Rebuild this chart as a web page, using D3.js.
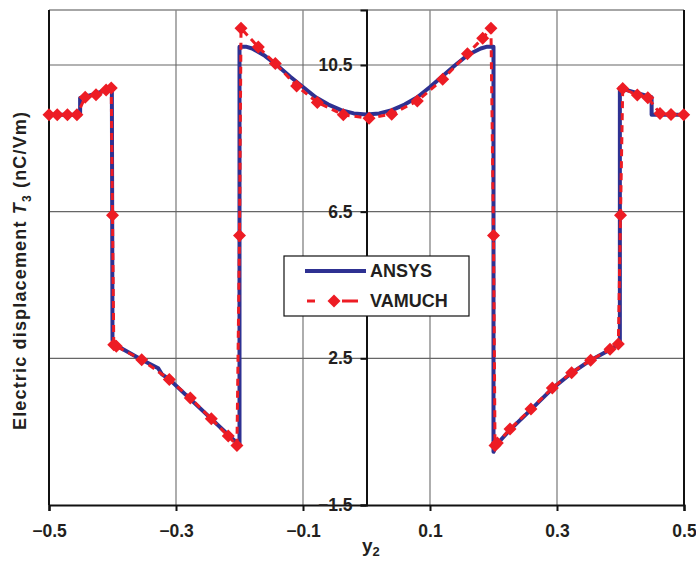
<html>
<head>
<meta charset="UTF-8"/>
<script src="https://d3js.org/d3.v7.min.js"></script>
<title>electric displacement</title>
<style>
body { margin:0; background:#fff; }
text { font-family: Arial, "Liberation Sans", sans-serif; font-weight: bold; fill: #231f20; }
</style>
</head>
<body>
<svg id='big' width=696 height=562></svg>
<script>
'use strict';

// ANSYS (solid blue line)
var ansysX = [-0.5, -0.451, -0.451, -0.43, -0.401, -0.4, -0.396, -0.354, -0.328, -0.3225, -0.31,
  -0.204, -0.2, -0.2, -0.19, -0.18, -0.16, -0.14, -0.12, -0.10, -0.08, -0.06, -0.04, -0.02, 0,
  0.02, 0.04, 0.06, 0.08, 0.10, 0.12, 0.14, 0.16, 0.18, 0.19, 0.2, 0.2, 0.205, 0.226, 0.259,
  0.293, 0.323, 0.353, 0.384, 0.399, 0.399, 0.449, 0.449, 0.5];
var ansysY = [9.14, 9.14, 9.6, 9.7, 9.87, 3.0, 2.87, 2.46, 2.23, 2.07, 1.92,
  0.19, 0.12, 11.0, 11.0, 10.95, 10.75, 10.48, 10.18, 9.90, 9.62, 9.42, 9.27, 9.18, 9.15,
  9.18, 9.27, 9.42, 9.62, 9.90, 10.2, 10.5, 10.78, 10.95, 11.0, 11.0, -0.05, 0.15, 0.55, 1.1,
  1.68, 2.1, 2.45, 2.74, 2.9, 9.87, 9.62, 9.14, 9.14];

// VAMUCH (dashed red line with diamonds)
var vamuchX = [-0.5, -0.487, -0.471, -0.456, -0.443, -0.426, -0.410, -0.402, -0.4, -0.398, -0.394,
  -0.354, -0.3105, -0.2775, -0.2444, -0.2177, -0.204, -0.2, -0.1976, -0.1704, -0.1436, -0.110,
  -0.0775, -0.0365, 0.004, 0.0397, 0.08, 0.12, 0.159, 0.183, 0.196, 0.2, 0.2024, 0.206, 0.226,
  0.259, 0.2926, 0.323, 0.353, 0.3835, 0.3966, 0.4, 0.4035, 0.4265, 0.443, 0.4622, 0.4795, 0.4995];
var vamuchY = [9.14, 9.14, 9.14, 9.14, 9.62, 9.69, 9.82, 9.87, 6.4, 2.87, 2.83,
  2.46, 1.92, 1.42, 0.85, 0.38, 0.12, 5.85, 11.5, 10.99, 10.54, 9.93,
  9.48, 9.14, 9.05, 9.16, 9.52, 10.11, 10.81, 11.23, 11.5, 5.85, 0.12, 0.19, 0.57,
  1.12, 1.69, 2.11, 2.45, 2.75, 2.89, 6.4, 9.86, 9.68, 9.61, 9.18, 9.15, 9.14];

var xTicks = [-0.5, -0.3, -0.1, 0.1, 0.3, 0.5];
var yTicks = [-1.5, 2.5, 6.5, 10.5];
var seriesNames = ['ANSYS', 'VAMUCH'];

var blue = '#2e3192';
var red = '#ed1c24';

function zip(xs, ys){
	var res = [];
	for(var i=0; i<xs.length; i++){
		res.push([xs[i], ys[i]]);
	}
	return res;
}

function diamond(r){
	return 'M0,' + (-r) + 'L' + r + ',0L0,' + r + 'L' + (-r) + ',0Z';
}

function main(){
	var svg = d3.select('#big');
	var sx = d3.scaleLinear().domain([-0.5, 0.5]).range([49, 684]);
	var sy = d3.scaleLinear().domain([-1.5, 12]).range([505, 10]);

	// grid
	svg.selectAll('.vgrid')
	.data(xTicks.slice(1, -1))
	.enter()
	.append('line')
	.attr('class', 'vgrid')
	.attr('x1', function(d){return sx(d)})
	.attr('x2', function(d){return sx(d)})
	.attr('y1', sy(12))
	.attr('y2', sy(-1.5))
	.attr('stroke', '#777')
	.attr('stroke-width', 1.2);

	svg.selectAll('.hgrid')
	.data(yTicks.slice(1))
	.enter()
	.append('line')
	.attr('class', 'hgrid')
	.attr('x1', sx(-0.5))
	.attr('x2', sx(0.5))
	.attr('y1', function(d){return sy(d)})
	.attr('y2', function(d){return sy(d)})
	.attr('stroke', '#666')
	.attr('stroke-width', 1.2);

	// plot border
	svg.append('line')
	.attr('x1', sx(-0.5)).attr('x2', sx(0.5))
	.attr('y1', sy(12)).attr('y2', sy(12))
	.attr('stroke', '#888').attr('stroke-width', 1.5);
	svg.append('line')
	.attr('x1', sx(-0.5)).attr('x2', sx(-0.5))
	.attr('y1', sy(12)).attr('y2', sy(-1.5))
	.attr('stroke', '#111').attr('stroke-width', 2);
	svg.append('line')
	.attr('x1', sx(0.5)).attr('x2', sx(0.5))
	.attr('y1', sy(12)).attr('y2', sy(-1.5))
	.attr('stroke', '#111').attr('stroke-width', 2);

	// x axis
	var xAxis = d3.axisBottom(sx)
	.tickValues(xTicks)
	.tickSize(6)
	.tickPadding(14)
	.tickFormat(function(d){return d3.format('.1f')(d)});

	var gx = svg.append('g')
	.attr('transform', 'translate(0,' + sy(-1.5) + ')')
	.call(xAxis);
	gx.select('.domain').attr('stroke', '#111').attr('stroke-width', 2.2);
	gx.selectAll('.tick line').attr('stroke', '#111').attr('stroke-width', 2);
	gx.selectAll('.tick text').attr('font-size', 17.5).attr('fill', '#231f20');

	// y axis through x = 0
	var yAxis = d3.axisLeft(sy)
	.tickValues(yTicks)
	.tickSize(6)
	.tickPadding(8)
	.tickFormat(function(d){return d3.format('.1f')(d)});

	var gy = svg.append('g')
	.attr('transform', 'translate(' + sx(0) + ',0)')
	.call(yAxis);
	gy.select('.domain').attr('stroke', '#111').attr('stroke-width', 2);
	gy.selectAll('.tick line').attr('stroke', '#111').attr('stroke-width', 2);
	gy.selectAll('.tick text').attr('font-size', 17.5).attr('fill', '#231f20');

	// series
	var line = d3.line()
	.x(function(d){return sx(d[0])})
	.y(function(d){return sy(d[1])});

	svg.append('path')
	.datum(zip(ansysX, ansysY))
	.attr('d', line)
	.attr('fill', 'none')
	.attr('stroke', blue)
	.attr('stroke-width', 4)
	.attr('stroke-linejoin', 'round');

	var vam = zip(vamuchX, vamuchY);
	svg.append('path')
	.datum(vam)
	.attr('d', line)
	.attr('fill', 'none')
	.attr('stroke', red)
	.attr('stroke-width', 3)
	.attr('stroke-dasharray', '7,5');

	svg.selectAll('.mk')
	.data(vam)
	.enter()
	.append('path')
	.attr('class', 'mk')
	.attr('d', diamond(6.5))
	.attr('transform', function(d){
		return 'translate(' + sx(d[0]) + ',' + sy(d[1]) + ')';
	})
	.attr('fill', red);

	// legend
	var lg = svg.append('g').attr('transform', 'translate(284,256)');
	lg.append('rect')
	.attr('width', 185)
	.attr('height', 60)
	.attr('fill', '#fff')
	.attr('stroke', '#111')
	.attr('stroke-width', 1.2);
	lg.append('line')
	.attr('x1', 21).attr('x2', 82)
	.attr('y1', 15).attr('y2', 15)
	.attr('stroke', blue).attr('stroke-width', 4);
	lg.append('line')
	.attr('x1', 23).attr('x2', 82)
	.attr('y1', 45).attr('y2', 45)
	.attr('stroke', red).attr('stroke-width', 3)
	.attr('stroke-dasharray', '8,16,0,11,8,0');
	lg.append('path')
	.attr('d', diamond(6.5))
	.attr('transform', 'translate(50,45)')
	.attr('fill', red);
	lg.selectAll('.lt')
	.data(seriesNames)
	.enter()
	.append('text')
	.attr('class', 'lt')
	.attr('x', 86)
	.attr('y', function(d, i){return 21 + i * 30})
	.attr('font-size', 18)
	.text(function(d){return d});

	// axis titles
	var xt = svg.append('text')
	.attr('x', 362)
	.attr('y', 552)
	.attr('font-size', 19);
	xt.append('tspan').text('y');
	xt.append('tspan').attr('dy', 4).attr('font-size', 13).text('2');

	var yt = svg.append('text')
	.attr('transform', 'translate(26,271) rotate(-90)')
	.attr('text-anchor', 'middle')
	.attr('font-size', 18)
	.attr('textLength', 318)
	.attr('lengthAdjust', 'spacing');
	yt.append('tspan').text('Electric displacement ');
	yt.append('tspan').attr('font-style', 'italic').text('T');
	yt.append('tspan').attr('dy', 5).attr('font-size', 12).text('3');
	yt.append('tspan').attr('dy', -5).text(' (nC/Vm)');

	return svg;
}

var svg = main();
</script>
</body>
</html>
